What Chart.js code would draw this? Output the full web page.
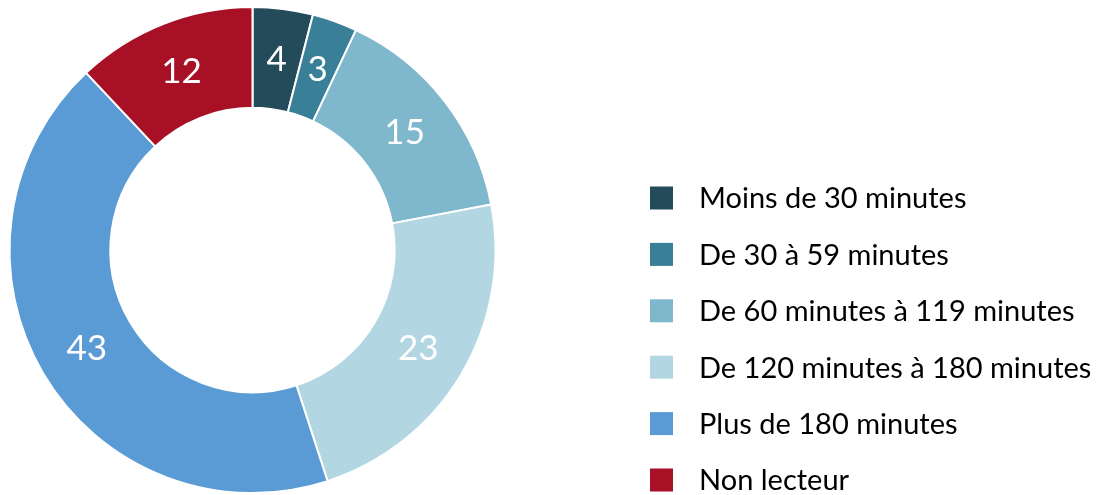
<!DOCTYPE html>
<html lang="fr">
<head>
<meta charset="UTF-8">
<title>Temps de lecture</title>
<style>
    html, body { margin: 0; padding: 0; background: #fff; }
    #wrap { width: 1096px; height: 495px; position: relative; }
</style>
</head>
<body>
<div id="wrap"><canvas id="myChart" width="1096" height="495"></canvas></div>
<script src="https://cdn.jsdelivr.net/npm/chart.js"></script>
<script>
    const categories = [
        'Moins de 30 minutes',
        'De 30 à 59 minutes',
        'De 60 minutes à 119 minutes',
        'De 120 minutes à 180 minutes',
        'Plus de 180 minutes',
        'Non lecteur'
    ];
    const values = [4, 3, 15, 23, 43, 12];
    const colors = ['#244b5a', '#3a7f98', '#7fb8cd', '#b3d7e2', '#5b9bd5', '#a81026'];

    const FONT = 'Lato, "Open Sans", sans-serif';

    // white numbers in the middle of each ring segment
    const sliceLabels = {
        id: 'sliceLabels',
        afterDatasetsDraw(chart) {
            const ctx = chart.ctx;
            const meta = chart.getDatasetMeta(0);
            ctx.save();
            ctx.fillStyle = '#fff';
            ctx.font = '35px ' + FONT;
            ctx.textAlign = 'center';
            ctx.textBaseline = 'middle';
            meta.data.forEach((arc, i) => {
                const p = arc.tooltipPosition();
                ctx.fillText(String(values[i]), p.x, p.y + 1);
            });
            ctx.restore();
        }
    };

    // legend drawn on the right side
    const sideLegend = {
        id: 'sideLegend',
        afterDraw(chart) {
            const ctx = chart.ctx;
            const x0 = 650, y0 = 198, step = 56.4, box = 23;
            ctx.save();
            ctx.font = '29px ' + FONT;
            ctx.textBaseline = 'middle';
            ctx.textAlign = 'left';
            categories.forEach((label, i) => {
                const y = y0 + i * step;
                ctx.fillStyle = colors[i];
                ctx.fillRect(x0, y - box / 2, box, box);
                ctx.fillStyle = '#000';
                ctx.fillText(label, x0 + box + 26, y + 1);
            });
            ctx.restore();
        }
    };

    new Chart(document.getElementById('myChart'), {
        type: 'doughnut',
        data: {
            labels: categories,
            datasets: [{
                data: values,
                backgroundColor: colors,
                borderColor: '#fff',
                borderWidth: 2
            }]
        },
        options: {
            responsive: false,
            animation: false,
            cutout: '58.5%',
            layout: { padding: { left: 8, right: 599, top: 6, bottom: 1 } },
            plugins: {
                legend: { display: false },
                tooltip: { enabled: false }
            }
        },
        plugins: [sliceLabels, sideLegend]
    });
</script>
</body>
</html>
